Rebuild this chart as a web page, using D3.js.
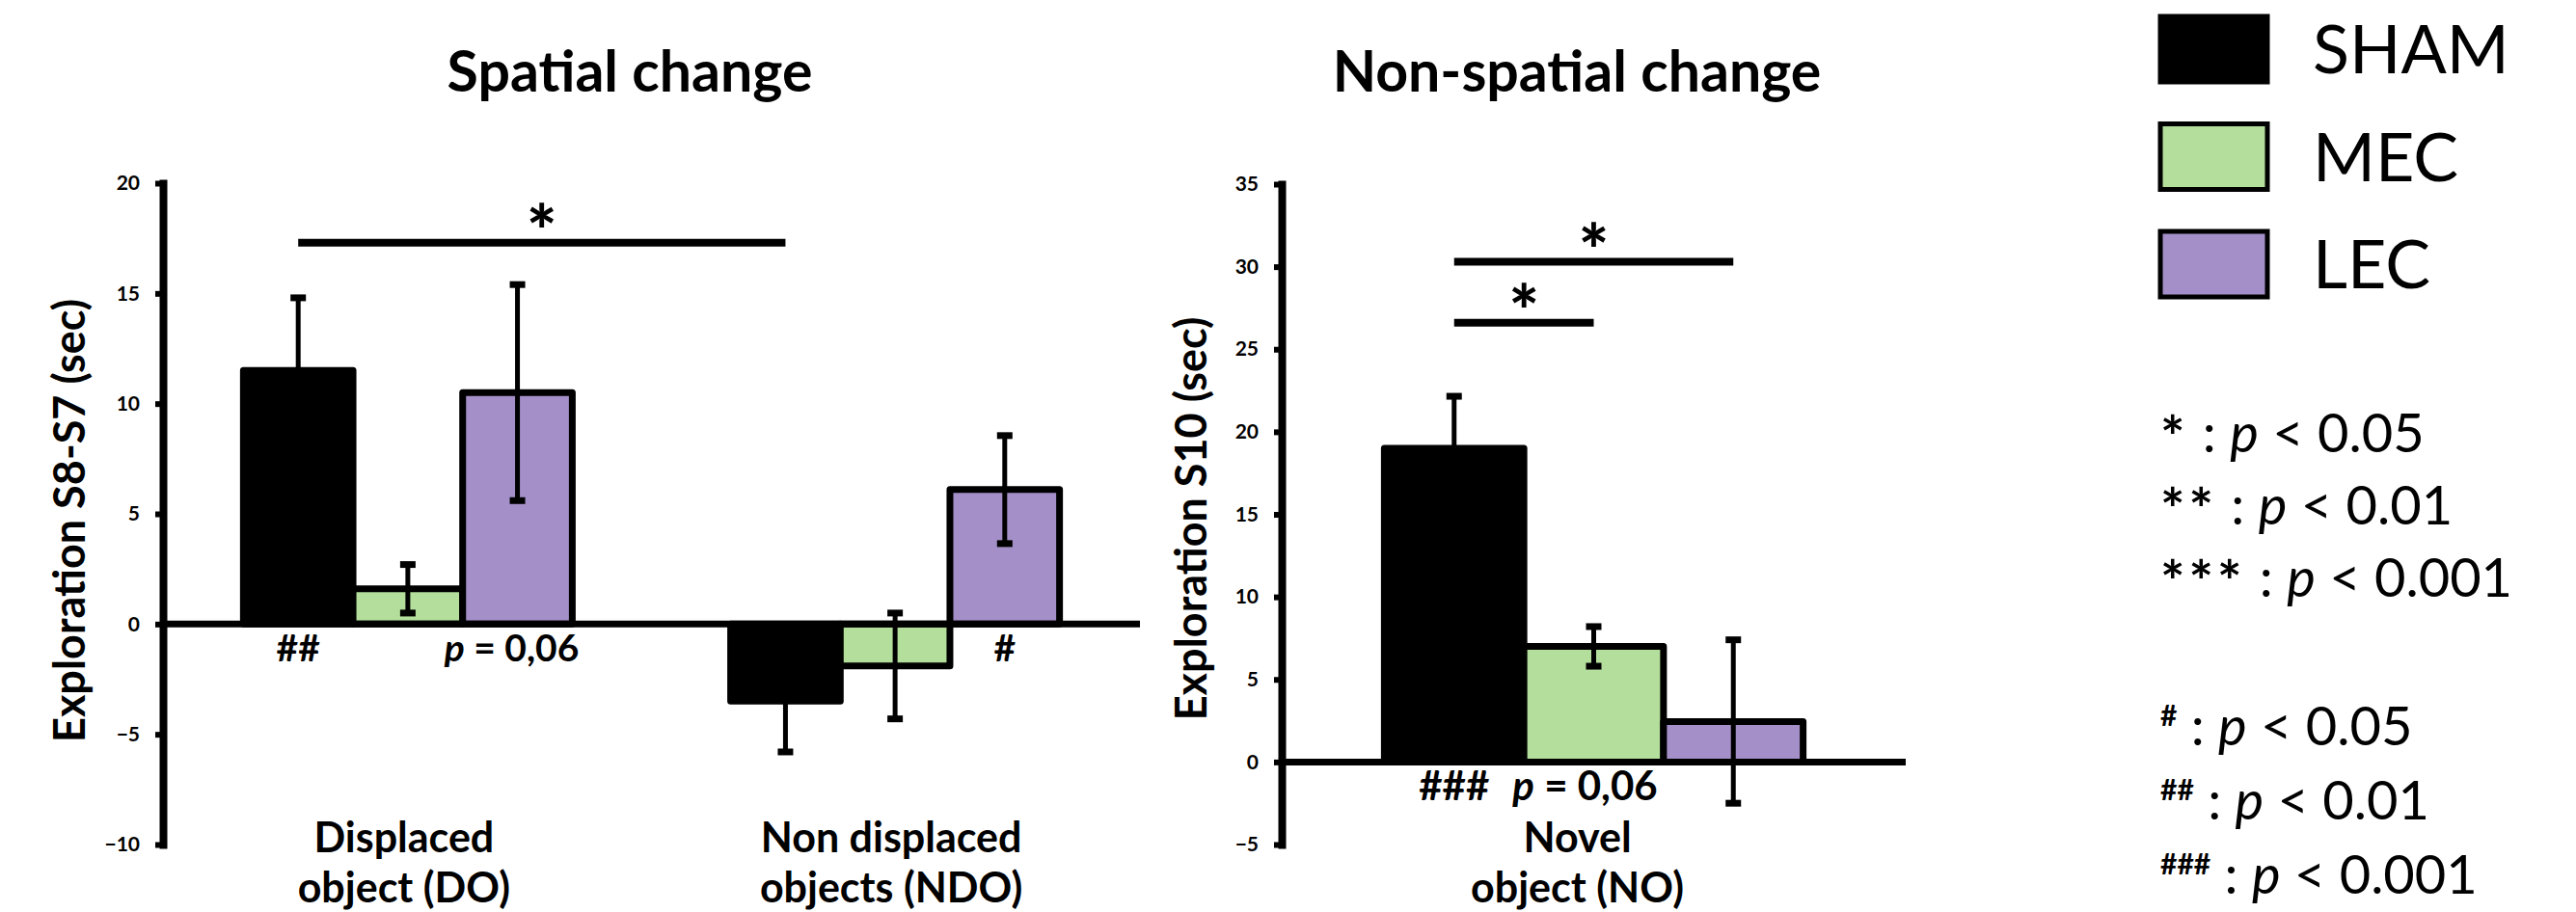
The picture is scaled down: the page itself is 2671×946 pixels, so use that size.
<!DOCTYPE html>
<html>
<head>
<meta charset="utf-8">
<script src="https://cdn.jsdelivr.net/npm/d3@7"></script>
<style>
  body { margin: 0; background: #fff; }
  svg { display: block; font-family: Lato, "Open Sans", sans-serif; }
</style>
</head>
<body>
<svg id="chart" width="2671" height="946"></svg>
<script>
// groups and colours
var groups = ["SHAM", "MEC", "LEC"];
var groupColors = ["#000000", "#b3de9b", "#a48fc8"];

// spatial change panel
var spatialCats = ["DO", "NDO"];
var spatialCatLabels = [["Displaced", "object (DO)"], ["Non displaced", "objects (NDO)"]];
var spatialMeans = [[11.5, 1.6, 10.5], [-3.5, -1.9, 6.1]];
var spatialErr = [[3.3, 1.1, 4.9], [2.3, 2.4, 2.45]];
var spatialTicks = [-10, -5, 0, 5, 10, 15, 20];
var spatialSig = [{ a: [0, 0], b: [1, 0], value: 17.3, label: "*" }];
var spatialMarks = [
  { cat: 0, grp: 0, text: "##" },
  { cat: 0, grp: 2, text: "p = 0,06" },
  { cat: 1, grp: 2, text: "#" }
];

// non-spatial change panel
var novelCats = ["NO"];
var novelCatLabels = [["Novel", "object (NO)"]];
var novelMeans = [[19.0, 7.0, 2.45]];
var novelErr = [[3.15, 1.2, 4.95]];
var novelTicks = [-5, 0, 5, 10, 15, 20, 25, 30, 35];
var novelSig = [
  { a: [0, 0], b: [0, 2], value: 30.3, label: "*" },
  { a: [0, 0], b: [0, 1], value: 26.6, label: "*" }
];
var novelMarks = [
  { cat: 0, grp: 0, text: "###" },
  { cat: 0, grp: 1, text: "p = 0,06" }
];

// significance legend
var starKeys = ["*", "**", "***"];
var starLevels = ["0.05", "0.01", "0.001"];
var hashKeys = ["#", "##", "###"];
var hashLevels = ["0.05", "0.01", "0.001"];

var svg = d3.select("#chart");

function addPText(sel, txt) {
  // "p = 0,06" with italic p
  if (txt.indexOf("p") === 0) {
    sel.append("tspan").attr("font-style", "italic").text("p");
    sel.append("tspan").text(txt.slice(1));
  } else {
    sel.text(txt);
  }
}

function drawPanel(o) {
  var g = svg.append("g");
  var y = d3.scaleLinear().domain(o.domain).range([876, o.yTop]);
  var x0 = d3.scaleBand().domain(o.cats).range([o.left, o.right])
    .paddingInner(o.padIn).paddingOuter(o.padOut);
  var x1 = d3.scaleBand().domain(groups).range([0, x0.bandwidth()]).padding(0);

  function cx(ci, gi) {
    return x0(o.cats[ci]) + x1(groups[gi]) + x1.bandwidth() / 2;
  }

  // title
  g.append("text").attr("x", o.titleX).attr("y", 95)
    .attr("text-anchor", "middle").attr("font-size", 59).attr("font-weight", 700)
    .text(o.title);

  // y axis
  var ax = g.append("g").attr("transform", "translate(" + o.left + ",0)")
    .call(d3.axisLeft(y).tickValues(o.ticks).tickSize(8).tickSizeOuter(0).tickPadding(16));
  ax.select(".domain").attr("stroke", "#000").attr("stroke-width", 8)
    .attr("stroke-linecap", "square");
  ax.selectAll(".tick line").attr("stroke", "#000").attr("stroke-width", 6);
  ax.selectAll(".tick text").attr("fill", "#000").attr("font-size", 21)
    .attr("font-weight", 700).attr("font-family", "Lato, sans-serif");

  g.append("text")
    .attr("transform", "translate(" + o.yTitleX + "," + o.yTitleY + ") rotate(-90)")
    .attr("text-anchor", "middle").attr("font-size", 45).attr("font-weight", 700)
    .text(o.yTitle);

  // bars
  var rows = [];
  o.means.forEach(function(vals, ci) {
    vals.forEach(function(v, gi) {
      rows.push({ ci: ci, gi: gi, v: v, e: o.errs[ci][gi] });
    });
  });

  g.selectAll(".bar").data(rows).enter().append("rect")
    .attr("x", function(d) { return x0(o.cats[d.ci]) + x1(groups[d.gi]); })
    .attr("width", x1.bandwidth())
    .attr("y", function(d) { return y(Math.max(0, d.v)); })
    .attr("height", function(d) { return Math.abs(y(d.v) - y(0)); })
    .attr("fill", function(d) { return groupColors[d.gi]; })
    .attr("stroke", "#000").attr("stroke-width", 7).attr("stroke-linejoin", "round");

  // zero line
  g.append("line").attr("x1", o.left).attr("x2", o.right)
    .attr("y1", y(0)).attr("y2", y(0)).attr("stroke", "#000").attr("stroke-width", 7);

  // error bars
  var eb = g.selectAll(".err").data(rows).enter().append("g");
  eb.append("line")
    .attr("x1", function(d) { return cx(d.ci, d.gi); })
    .attr("x2", function(d) { return cx(d.ci, d.gi); })
    .attr("y1", function(d) { return y(d.v + d.e); })
    .attr("y2", function(d) { return y(d.v - d.e); })
    .attr("stroke", "#000").attr("stroke-width", 5);
  [1, -1].forEach(function(s) {
    eb.append("line")
      .attr("x1", function(d) { return cx(d.ci, d.gi) - 8; })
      .attr("x2", function(d) { return cx(d.ci, d.gi) + 8; })
      .attr("y1", function(d) { return y(d.v + s * d.e); })
      .attr("y2", function(d) { return y(d.v + s * d.e); })
      .attr("stroke", "#000").attr("stroke-width", 7);
  });

  // significance bars
  o.sig.forEach(function(s) {
    var xa = cx(s.a[0], s.a[1]), xb = cx(s.b[0], s.b[1]);
    g.append("line").attr("x1", xa).attr("x2", xb)
      .attr("y1", y(s.value)).attr("y2", y(s.value))
      .attr("stroke", "#000").attr("stroke-width", 8);
    g.append("text").attr("x", (xa + xb) / 2).attr("y", y(s.value) - 27 + 0.57 * 74)
      .attr("text-anchor", "middle").attr("font-size", 74).attr("font-weight", 900)
      .text(s.label);
  });

  // marks under bars
  o.marks.forEach(function(m) {
    var t = g.append("text").attr("x", cx(m.cat, m.grp) + (m.text.length > 3 ? o.pShift : 0))
      .attr("y", o.markY).attr("text-anchor", "middle")
      .attr("font-size", o.markSize).attr("font-weight", 700);
    addPText(t, m.text);
  });

  // category labels
  o.catLabels.forEach(function(lines, ci) {
    lines.forEach(function(line, li) {
      g.append("text")
        .attr("x", x0(o.cats[ci]) + x0.bandwidth() / 2 + o.catShift)
        .attr("y", 884 + li * 52)
        .attr("text-anchor", "middle").attr("font-size", 43).attr("font-weight", 700)
        .text(line);
    });
  });
}

drawPanel({
  title: "Spatial change", titleX: 653,
  yTitle: "Exploration S8-S7 (sec)", yTitleX: 88, yTitleY: 540,
  domain: [-10, 20], yTop: 190, ticks: spatialTicks,
  left: 169, right: 1182, padIn: 0.325, padOut: 0.165,
  cats: spatialCats, catLabels: spatialCatLabels,
  means: spatialMeans, errs: spatialErr, sig: spatialSig,
  marks: spatialMarks, markY: 686, markSize: 39, pShift: -6, catShift: -4
});

drawPanel({
  title: "Non-spatial change", titleX: 1635,
  yTitle: "Exploration S10 (sec)", yTitleX: 1251, yTitleY: 538,
  domain: [-5, 35], yTop: 191, ticks: novelTicks,
  left: 1329, right: 1976, padIn: 0, padOut: 0.245,
  cats: novelCats, catLabels: novelCatLabels,
  means: novelMeans, errs: novelErr, sig: novelSig,
  marks: novelMarks, markY: 830, markSize: 42, pShift: -9, catShift: -17
});

// group legend
var leg = svg.append("g");
groups.forEach(function(name, i) {
  leg.append("rect").attr("x", 2240).attr("y", 17 + i * 111.5)
    .attr("width", 111).attr("height", 68)
    .attr("fill", groupColors[i]).attr("stroke", "#000").attr("stroke-width", 5);
  leg.append("text").attr("x", 2398).attr("y", 76 + i * 111.5)
    .attr("font-size", 70).text(name);
});

// p-value legend
function pLine(yy, key, level, sup) {
  var t = leg.append("text").attr("x", 2240).attr("y", yy).attr("font-size", 56);
  if (sup) {
    t.append("tspan").attr("font-size", 30).attr("font-weight", 700).attr("dy", -20).text(key);
    t.append("tspan").attr("dy", 20).text(" : ");
  } else {
    t.append("tspan").attr("font-size", 60).attr("font-weight", 700)
      .attr("letter-spacing", 4).attr("dy", 6).text(key);
    t.append("tspan").attr("dy", -6).text(" : ");
  }
  t.append("tspan").attr("font-style", "italic").text("p");
  t.append("tspan").text(" < " + level);
}
starKeys.forEach(function(k, i) { pLine(469 + i * 75, k, starLevels[i], false); });
hashKeys.forEach(function(k, i) { pLine(773 + i * 77, k, hashLevels[i], true); });
</script>
</body>
</html>
